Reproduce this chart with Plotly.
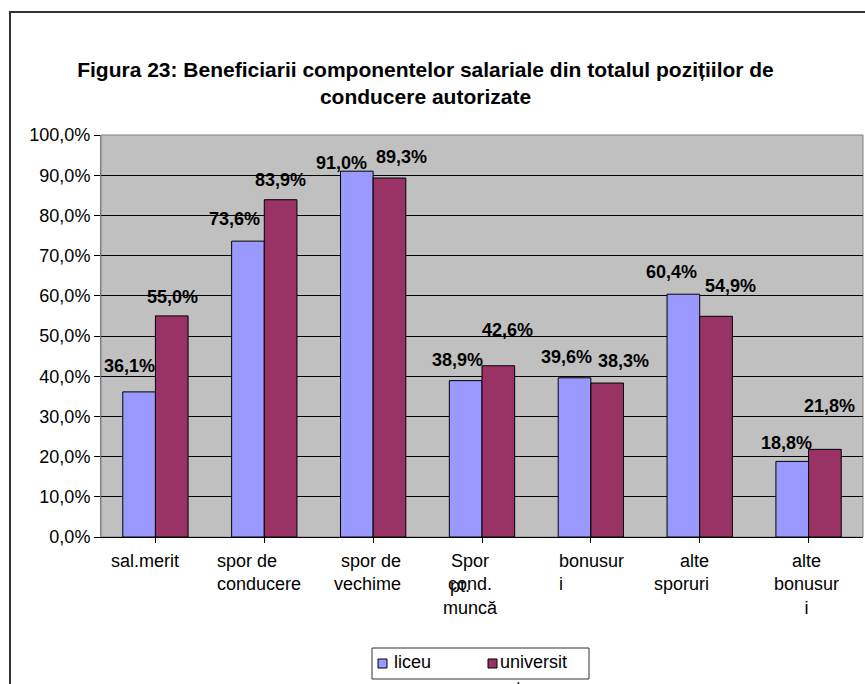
import plotly.graph_objects as go

# Salary components: share of authorised management positions (%)
categories = ["sal.merit", "spor de conducere", "spor de vechime", "Spor pt. cond. muncă",
              "bonusuri", "alte sporuri", "alte bonusuri"]
category_lines = ["sal.merit", "spor de<br>conducere", "spor de<br>vechime", "Spor<br>cond.<br>muncă",
                  "bonusur<br>i", "alte<br>sporuri", "alte<br>bonusur<br>i"]
liceu = [36.1, 73.6, 91.0, 38.9, 39.6, 60.4, 18.8]
universitate = [55.0, 83.9, 89.3, 42.6, 38.3, 54.9, 21.8]
y_ticks = [0, 10, 20, 30, 40, 50, 60, 70, 80, 90, 100]
series_names = ["liceu", "universit"]
series_colors = ["#9999FF", "#993366"]

# category label alignment and horizontal nudge (px) relative to the category centre
cat_align = ["center", "left", "right", "center", "left", "right", "center"]
cat_dx = [-10, -49, 30, -12, -34, 11, -2]

# label placement tweaks (pixels): (xshift, yshift) above each bar
liceu_label_shift = [(-10, 26), (-13, 22), (-15, 8), (-8, 21), (-8, 21), (-12, 22), (-6, 18)]
univ_label_shift = [(1, 19), (0, 20), (12, 21), (9, 36), (16, 22), (14, 30), (5, 43)]

FONT = "Liberation Sans, Arial, sans-serif"
FS = 18

# plot area in pixels
W, H = 865, 684
L, R, T, B = 101, 2, 135, 147
PW, PH = W - L - R, H - T - B


def fmt(v):
    return f"{v:.1f}".replace(".", ",") + "%"


def px_x(x):
    return (x - L) / PW


def px_y(y):
    return (H - B - y) / PH


idx = list(range(len(categories)))

fig = go.Figure()
for name, vals, col in zip(series_names, [liceu, universitate], series_colors):
    fig.add_trace(go.Bar(x=idx, y=vals, name=name, showlegend=False,
                         marker=dict(color=col, line=dict(color="black", width=1))))

annotations = []
label_font = dict(family=FONT, size=FS, color="black", weight="bold")
for i, v in enumerate(liceu):
    dx, dy = liceu_label_shift[i]
    annotations.append(dict(x=i - 0.15, y=v, xref="x", yref="y", text=fmt(v), showarrow=False,
                            xanchor="center", yanchor="middle", xshift=dx, yshift=dy,
                            font=label_font))
for i, v in enumerate(universitate):
    dx, dy = univ_label_shift[i]
    annotations.append(dict(x=i + 0.15, y=v, xref="x", yref="y", text=fmt(v), showarrow=False,
                            xanchor="center", yanchor="middle", xshift=dx, yshift=dy,
                            font=label_font))

# category labels under the axis
for i, txt in enumerate(category_lines):
    annotations.append(dict(x=i, y=0, xref="x", yref="paper", text=txt, showarrow=False,
                            xanchor=cat_align[i], align=cat_align[i], yanchor="top",
                            xshift=cat_dx[i], yshift=-12,
                            font=dict(family=FONT, size=FS, color="black")))

# wrapped "pt." overlapping the second line of the fourth category label
annotations.append(dict(x=px_x(460), y=px_y(586), xref="paper", yref="paper", text="pt.",
                        showarrow=False, xanchor="center", yanchor="middle",
                        font=dict(family=FONT, size=FS, color="black")))

# legend box below the chart
legend_box = (372, 589, 648, 679)
legend_swatch_x = [378, 488]
legend_text_x = [392, 498]
shapes = [
    # plot-area frame
    dict(type="rect", xref="paper", yref="paper", x0=0, x1=1, y0=0, y1=1,
         line=dict(color="#808080", width=1), layer="below"),
    # outer chart border
    dict(type="rect", xref="paper", yref="paper",
         x0=px_x(10), x1=px_x(W + 20), y0=px_y(H + 20), y1=px_y(12),
         line=dict(color="#333333", width=2)),
    dict(type="rect", xref="paper", yref="paper",
         x0=px_x(legend_box[0]), x1=px_x(legend_box[1]),
         y0=px_y(legend_box[3]), y1=px_y(legend_box[2]),
         fillcolor="white", line=dict(color="#333333", width=1)),
]
for sx, tx, name, col in zip(legend_swatch_x, legend_text_x, series_names, series_colors):
    shapes.append(dict(type="rect", xref="paper", yref="paper",
                       x0=px_x(sx), x1=px_x(sx + 9), y0=px_y(668), y1=px_y(659),
                       fillcolor=col, line=dict(color="black", width=1)))
    annotations.append(dict(x=px_x(tx), y=px_y(662), xref="paper", yref="paper", text=name,
                            showarrow=False, xanchor="left", yanchor="middle",
                            font=dict(family=FONT, size=FS, color="black")))
# wrapped tail of the second legend entry, spilling below the legend box
annotations.append(dict(x=px_x(518), y=px_y(688), xref="paper", yref="paper", text="ate",
                        showarrow=False, xanchor="center", yanchor="middle",
                        font=dict(family=FONT, size=FS, color="black")))

fig.update_layout(
    width=W, height=H,
    margin=dict(l=L, r=R, t=T, b=B, autoexpand=False),
    paper_bgcolor="white",
    plot_bgcolor="#C0C0C0",
    font=dict(family=FONT, size=FS, color="black"),
    barmode="group",
    bargap=0.4,
    bargroupgap=0,
    showlegend=False,
    title=dict(text="Figura 23: Beneficiarii componentelor salariale din totalul pozițiilor de<br>conducere autorizate",
               x=425.5 / W, xanchor="center", y=1 - 77 / H, yanchor="middle",
               font=dict(family=FONT, size=21, color="black", weight="bold")),
    xaxis=dict(tickmode="array", tickvals=idx, ticktext=[""] * len(idx), range=[-0.5, 6.5],
               tickson="boundaries", ticks="outside", ticklen=5, tickcolor="black",
               showline=True, linecolor="black", linewidth=1, showgrid=False,
               automargin=False, fixedrange=True),
    yaxis=dict(range=[0, 100], tickmode="array", tickvals=y_ticks,
               ticktext=[fmt(v) for v in y_ticks],
               ticks="outside", ticklen=6, tickcolor="black",
               showline=True, linecolor="#808080", linewidth=1,
               showgrid=True, gridcolor="black", gridwidth=1, zeroline=False,
               tickfont=dict(family=FONT, size=FS, color="black"), automargin=False,
               fixedrange=True),
    annotations=annotations,
    shapes=shapes,
)

fig.write_html("out.html")
